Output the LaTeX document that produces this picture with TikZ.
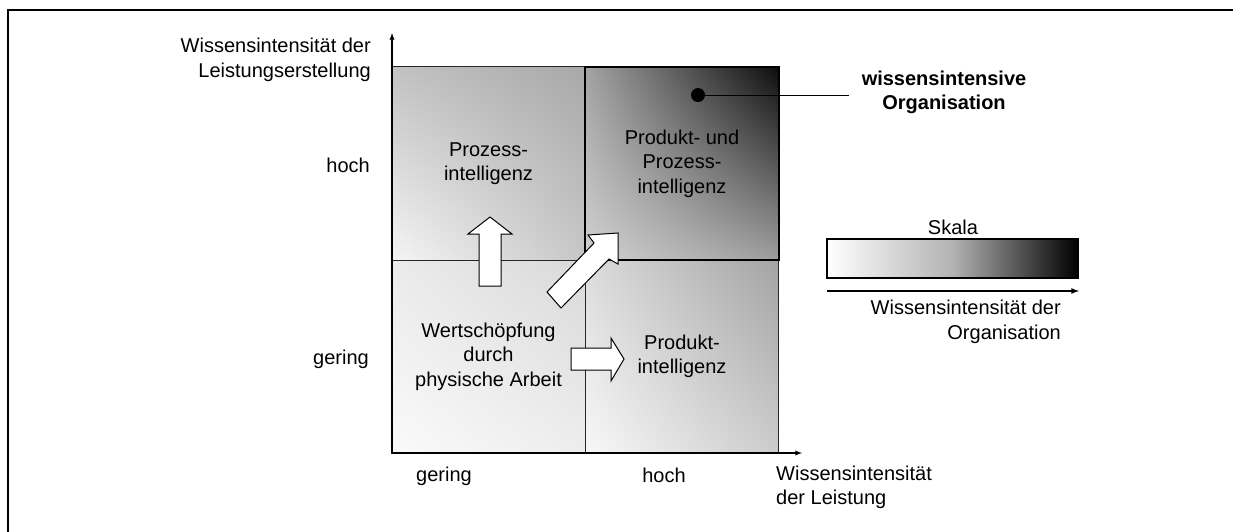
\documentclass[tikz,border=0pt]{standalone}
\usepackage{fontspec}
\setmainfont{Liberation Sans}
\usetikzlibrary{shadings}

\begin{document}
\begin{tikzpicture}[x=1pt, y=-1pt, font=\fontsize{20}{24.5}\selectfont,
    every node/.style={inner sep=0},
    quad/.style={shape=rectangle, draw=black!85, line width=1pt, minimum size=193.5, align=center},
    blockarrow/.style={draw=black, line width=1pt, fill=white, line join=miter},
    axis/.style={line width=1.3pt, -latex}]

      \useasboundingbox (0,0) rectangle (1233,531);
      \clip (0,0) rectangle (1233,531);
      \draw[line width=2.5pt] (8,10) rectangle (1260,560);

      \node[quad, upper left=black!8, upper right=black!15, lower left=black!2, lower right=black!7] (C) at (488.5,356.5) {Wertschöpfung\\durch\\physische Arbeit};
      \node[quad, upper left=black!14, upper right=black!36, lower left=black!3, lower right=black!20] (D) at (682,356.5) {Produkt-\\intelligenz};
      \node[quad, upper left=black!24, upper right=black!34, lower left=black!4, lower right=black!22] (A) at (488.5,163.5) {Prozess-\\intelligenz};
      \node[quad, draw=black, line width=2pt, upper left=black!36, upper right=black!95, lower left=black!18, lower right=black!38] (B) at (682,163.5) {Produkt- und\\Prozess-\\intelligenz};

      \coordinate (O) at (392,453);
      \coordinate (Y) at (392,33);
      \coordinate (X) at (802,453);

      \path [axis] (O) edge (Y);
      \path [axis] (O) edge (X);

      \draw[blockarrow] (479,286) -- (479,234) -- (468,234) -- (490,217) -- (512,234) -- (501,234) -- (501,286) -- cycle;
      \draw[blockarrow] (571,348) -- (611,348) -- (611,338) -- (624,359) -- (611,381) -- (611,370) -- (571,370) -- cycle;
      \draw[blockarrow] (547,292) -- (594,243) -- (588,235) -- (618,233) -- (618,264) -- (609,259) -- (561,308) -- cycle;

      \node[anchor=east, align=right] (H) at (371,60) {Wissensintensität der\\Leistungserstellung};
      \node[anchor=east] (I) at (370,165) {hoch};
      \node[anchor=east] (J) at (369,359) {gering};
      \node[] (P) at (444,476) {gering};
      \node[] (Q) at (664,475) {hoch};
      \node[anchor=west, align=left] (R) at (776,487.5) {Wissensintensität\\der Leistung};

      \node[shape=circle, fill=black, minimum size=14] (K) at (698,95) {};
      \node[align=center, font=\fontsize{20}{24.5}\selectfont\bfseries] (L) at (944,92.5) {wissensintensive\\Organisation};
      \path [-, line width=1pt, shorten >=13pt] (K.center) edge (K.center -| L.west);

      \node[draw=black, line width=1.5pt, minimum width=251, minimum height=39, left color=white, right color=black, middle color=black!30] (S) at (952.5,258.5) {};
      \node[] (T) at (953,227) {Skala};
      \coordinate (U) at (827,291);
      \coordinate (V) at (1079,291);
      \path [axis, line width=1.6pt] (U) edge (V);
      \node[anchor=east, align=right] (W) at (1061,322) {Wissensintensität der\\Organisation};
    \end{tikzpicture}
\end{document}
